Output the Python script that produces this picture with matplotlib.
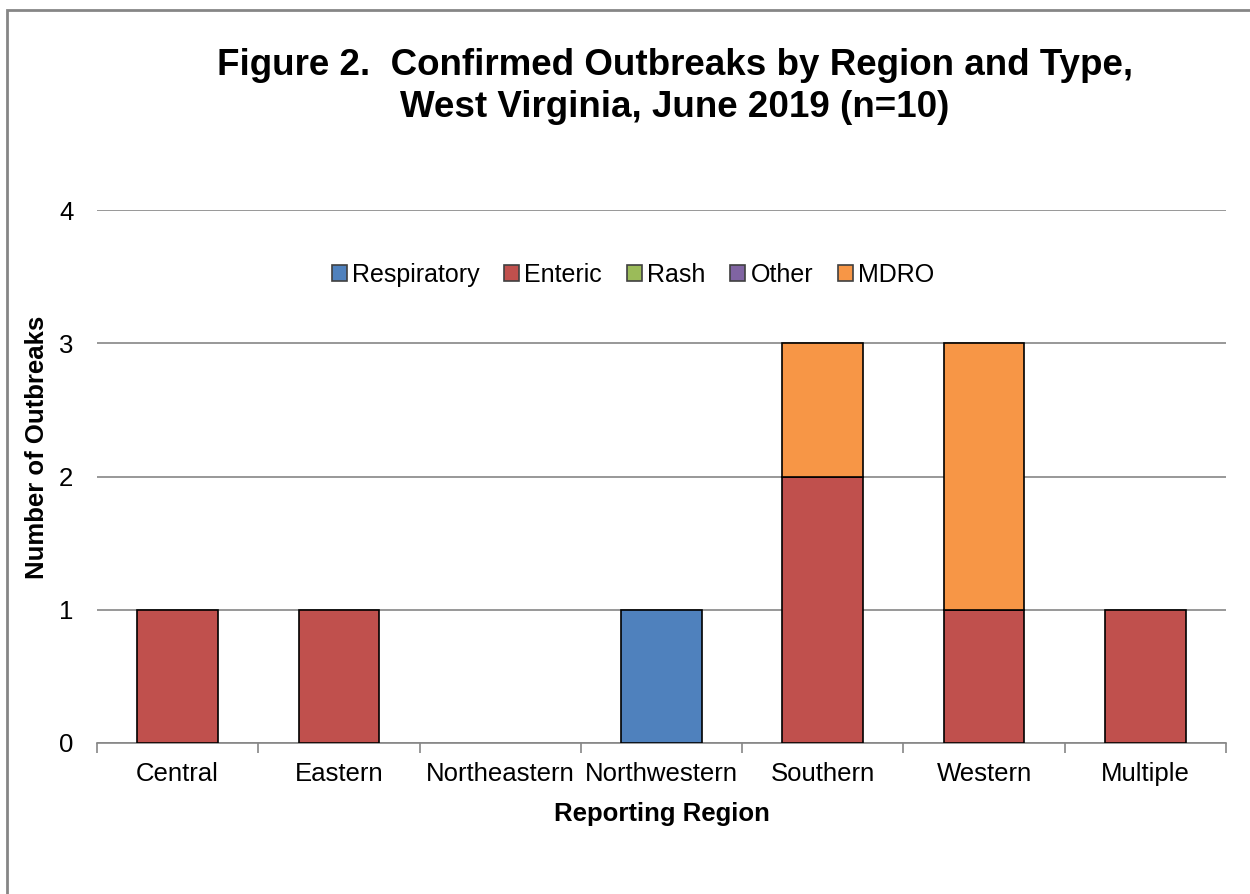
import matplotlib
matplotlib.use("Agg")
import matplotlib.pyplot as plt
from matplotlib.patches import Rectangle, Patch
import numpy as np

plt.rcParams['font.family'] = ['Liberation Sans', 'DejaVu Sans']

regions = ["Central", "Eastern", "Northeastern", "Northwestern", "Southern", "Western", "Multiple"]
series_names = ["Respiratory", "Enteric", "Rash", "Other", "MDRO"]
respiratory = [0, 0, 0, 1, 0, 0, 0]
enteric = [1, 1, 0, 0, 2, 1, 1]
rash = [0, 0, 0, 0, 0, 0, 0]
other = [0, 0, 0, 0, 0, 0, 0]
mdro = [0, 0, 0, 0, 1, 2, 0]
colors = ["#4F81BD", "#C0504D", "#9BBB59", "#8064A2", "#F79646"]

fig = plt.figure(figsize=(12.5, 8.94), dpi=100)
# outer border
fig.patches.append(Rectangle((7/1250, -0.1), 1.2, 1 - 10/894 + 0.1, transform=fig.transFigure,
                             fill=False, edgecolor="#868686", linewidth=2, zorder=0))

ax = fig.add_axes([97/1250, 1 - 743/894, (1226 - 97)/1250, (743 - 210)/894])
x = np.arange(len(regions))
bottom = np.zeros(len(regions))
for name, vals, c in zip(series_names, [respiratory, enteric, rash, other, mdro], colors):
    vals = np.array(vals, dtype=float)
    mask = vals > 0
    if mask.any():
        ax.bar(x[mask], vals[mask], 0.5, bottom=bottom[mask], color=c, edgecolor="black",
               linewidth=1.2, zorder=3)
    bottom += vals

ax.set_xlim(-0.5, len(regions) - 0.5)
ax.set_ylim(0, 4)
ax.set_yticks([0, 1, 2, 3, 4])
ax.yaxis.grid(True, color="#868686", linewidth=1.2, zorder=0)
ax.set_axisbelow(True)
for s in ["top", "right", "left"]:
    ax.spines[s].set_visible(False)
ax.spines["bottom"].set_color("#868686")
ax.spines["bottom"].set_linewidth(1.2)
ax.tick_params(axis="y", length=0, labelsize=18.5, pad=17)
ax.set_xticks(x)
ax.set_xticklabels(regions, fontsize=18.5)
ax.tick_params(axis="x", length=0, pad=14)
ax.set_xticks(np.arange(-0.5, len(regions)), minor=True)
ax.tick_params(axis="x", which="minor", length=7, color="#868686", width=1.2, direction="out")

ax.set_xlabel("Reporting Region", fontsize=18.5, fontweight="bold", labelpad=11)
ax.set_ylabel("Number of Outbreaks", fontsize=18.5, fontweight="bold")
ax.yaxis.set_label_coords(37/1250, 0.5, transform=fig.transFigure)
ax.yaxis.label.set_va("center")

handles = [Patch(facecolor=c, edgecolor="#404040", linewidth=1.2) for c in colors]
leg = ax.legend(handles, series_names, loc="center", bbox_to_anchor=(633/1250, 1 - 275/894),
                bbox_transform=fig.transFigure, ncol=5, frameon=False, fontsize=18,
                handlelength=0.6, handleheight=0.6, handletextpad=0.2, columnspacing=1.0)

fig.text(675/1250, 1 - 75/894, "Figure 2.  Confirmed Outbreaks by Region and Type,",
         ha="center", va="baseline", fontsize=26.5, fontweight="bold")
fig.text(675/1250, 1 - 117/894, "West Virginia, June 2019 (n=10)",
         ha="center", va="baseline", fontsize=26.5, fontweight="bold")

fig.savefig("out.png", dpi=100)
